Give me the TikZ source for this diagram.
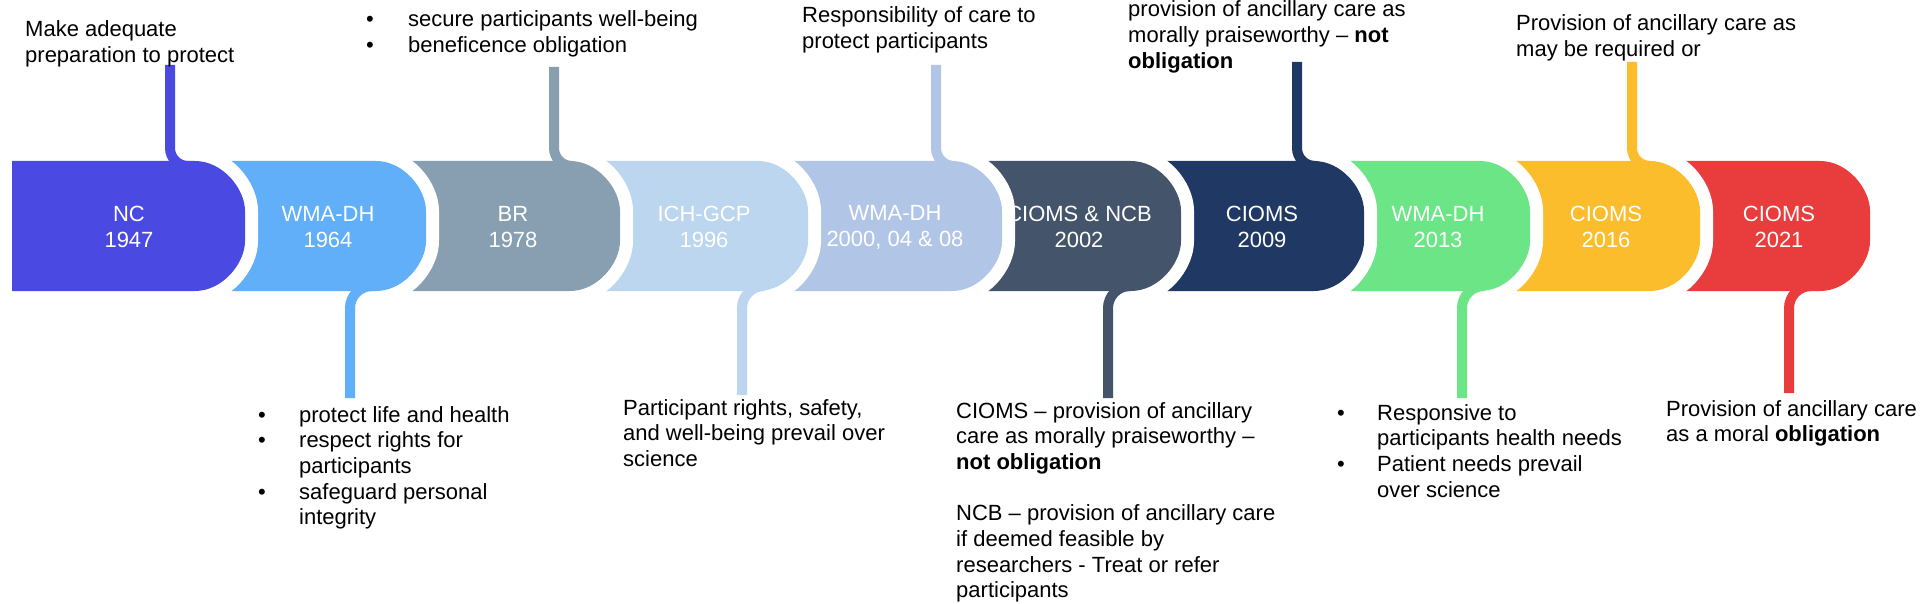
\documentclass[tikz,border=0pt]{standalone}
\usepackage{fontspec}
\setmainfont{Liberation Sans}
\definecolor{cNC}{RGB}{74,74,226}
\definecolor{cWA}{RGB}{96,175,248}
\definecolor{cBR}{RGB}{136,159,178}
\definecolor{cICH}{RGB}{187,214,238}
\definecolor{cWB}{RGB}{177,197,230}
\definecolor{cCN}{RGB}{68,84,106}
\definecolor{cCA}{RGB}{32,56,100}
\definecolor{cWC}{RGB}{107,229,133}
\definecolor{cCB}{RGB}{251,189,44}
\definecolor{cCC}{RGB}{233,60,60}
% segment: left x, right x, colour; top 161, bottom 291, corner radius 50
\newcommand\Seg[3]{\path[seg=#3] (#1,161) -- ({#2-50},161) .. controls ({#2-22.4},161) and (#2,188.6) .. (#2,211) -- (#2,241) .. controls (#2,263.4) and ({#2-22.4},291) .. ({#2-50},291) -- (#1,291) -- cycle;}
\newcommand\TopConn[4]{\coordinate (#1a) at (#2,#3); \coordinate (#1b) at ({#2+18},166);
  \draw[conn=#4] (#1a) -- (#2,148) .. controls (#2,157.9) and ({#2+8.1},166) .. (#1b);}
\newcommand\BotConn[4]{\coordinate (#1a) at (#2,#3); \coordinate (#1b) at ({#2+22},286);
  \draw[conn=#4] (#1a) -- (#2,308) .. controls (#2,296) and ({#2+10},286) .. (#1b);}
\newcommand\bu[1]{\makebox[#1][l]{•}}
\begin{document}
\begin{tikzpicture}[x=1pt,y=-1pt,
  seg/.style={fill=#1, preaction={draw=white, line width=26pt}},
  conn/.style={draw=#1, line width=10pt},
  lab/.style={text=white, align=center, font=\fontsize{22}{26}\selectfont, inner sep=0pt},
  note/.style={anchor=base west, inner sep=0pt}]
\useasboundingbox (0,0) rectangle (1928,604);
\fill[white] (0,0) rectangle (1928,604);
% segments, right to left
\Seg{1630}{1870}{cCC}
\Seg{1460}{1700}{cCB}
\Seg{1294}{1530}{cWC}
\Seg{1111}{1364}{cCA}
\Seg{930}{1181}{cCN}
\Seg{738}{1002}{cWB}
\Seg{550}{808}{cICH}
\Seg{356}{620}{cBR}
\Seg{175}{426}{cWA}
\Seg{12}{245}{cNC}
% labels
\node[lab] (l1) at (129,227) {NC\\1947};
\node[lab] (l2) at (328,227) {WMA-DH\\1964};
\node[lab] (l3) at (513,227) {BR\\1978};
\node[lab] (l4) at (704,227) {ICH-GCP\\1996};
\node[lab] (l5) at (895,227) {WMA-DH\\2000, 04 \& 08};
\node[lab] (l6) at (1079,227) {CIOMS \& NCB\\2002};
\node[lab] (l7) at (1262,227) {CIOMS\\2009};
\node[lab] (l8) at (1438,227) {WMA-DH\\2013};
\node[lab] (l9) at (1606,227) {CIOMS\\2016};
\node[lab] (l10) at (1779,227) {CIOMS\\2021};
% connectors
\TopConn{t1}{170}{65}{cNC}
\TopConn{t3}{554}{67}{cBR}
\TopConn{t5}{936}{65}{cWB}
\TopConn{t7}{1297}{62}{cCA}
\TopConn{t9}{1632}{62}{cCB}
\BotConn{b2}{350}{398}{cWA}
\BotConn{b4}{742}{395}{cICH}
\BotConn{b6}{1108}{398}{cCN}
\BotConn{b8}{1462}{398}{cWC}
\BotConn{b10}{1789}{393}{cCC}
% notes
\node[note] (n1) at (25,37) {\parbox[t]{300pt}{\fontsize{22}{25.7}\selectfont\raggedright
  Make adequate\\preparation to protect}};
\node[note] (n3) at (366,27) {\parbox[t]{400pt}{\fontsize{22}{25.7}\selectfont\raggedright
  \bu{42pt}secure participants well-being\\\bu{42pt}beneficence obligation}};
\node[note] (n5) at (802,23) {\parbox[t]{300pt}{\fontsize{22}{25.7}\selectfont\raggedright
  Responsibility of care to\\protect participants}};
\node[note] (n7) at (1128,17) {\parbox[t]{340pt}{\fontsize{22}{25.7}\selectfont\raggedright
  provision of ancillary care as\\morally praiseworthy – \textbf{not}\\\textbf{obligation}}};
\node[note] (n9) at (1516,31) {\parbox[t]{340pt}{\fontsize{22}{25.7}\selectfont\raggedright
  Provision of ancillary care as\\may be required or}};
\node[note] (m2) at (258,422) {\parbox[t]{340pt}{\fontsize{22}{25.7}\selectfont\raggedright
  \bu{41pt}protect life and health\\\bu{41pt}respect rights for\\\hspace*{41pt}participants\\\bu{41pt}safeguard personal\\\hspace*{41pt}integrity}};
\node[note] (m4) at (623,415) {\parbox[t]{340pt}{\fontsize{22}{25.7}\selectfont\raggedright
  Participant rights, safety,\\and well-being prevail over\\science}};
\node[note] (m6) at (956,418) {\parbox[t]{360pt}{\fontsize{22}{25.7}\selectfont\raggedright
  CIOMS – provision of ancillary\\care as morally praiseworthy –\\\textbf{not obligation}\\[25.7pt]NCB – provision of ancillary care\\if deemed feasible by\\researchers - Treat or refer\\participants}};
\node[note] (m8) at (1337,420) {\parbox[t]{340pt}{\fontsize{22}{25.7}\selectfont\raggedright
  \bu{40pt}Responsive to\\\hspace*{40pt}participants health needs\\\bu{40pt}Patient needs prevail\\\hspace*{40pt}over science}};
\node[note] (m10) at (1666,416) {\parbox[t]{300pt}{\fontsize{22}{25.7}\selectfont\raggedright
  Provision of ancillary care\\as a moral \textbf{obligation}}};
\end{tikzpicture}
\end{document}
